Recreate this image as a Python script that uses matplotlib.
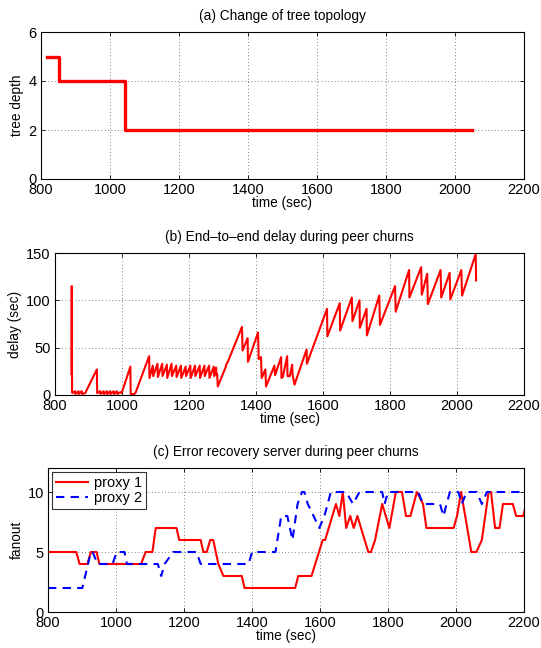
import matplotlib
matplotlib.use("Agg")
import matplotlib.pyplot as plt

plt.rcParams['font.family'] = ['Liberation Sans', 'DejaVu Sans']

# ---- data ----
# (a) tree depth (step)
depth_t = [817, 852, 852, 1044, 1044, 2048]
depth_v = [5, 5, 4, 4, 2, 2]

# (b) end-to-end delay
delay_t = [849, 850, 851, 852, 860, 861, 870, 871, 880, 881, 890, 925, 926,
           935, 936, 945, 946, 955, 956, 965, 966, 975, 976, 985, 986, 995, 999,
           1025, 1026, 1035, 1040, 1081, 1082,
           1092, 1093, 1106, 1107, 1120, 1121, 1134, 1135, 1148, 1149, 1162, 1163,
           1176, 1177, 1190, 1191, 1204, 1205, 1218, 1219, 1232, 1233, 1246, 1247,
           1260, 1261, 1274, 1275, 1281, 1282, 1284, 1286,
           1310, 1312, 1316, 1358, 1360, 1375, 1376, 1406, 1408, 1415, 1417,
           1428, 1430, 1455, 1457, 1475, 1476, 1480, 1493, 1494, 1501, 1508, 1509,
           1515, 1551, 1552, 1612, 1613, 1650, 1651, 1686, 1688, 1709, 1710,
           1730, 1731, 1768, 1770, 1815, 1817, 1857, 1858, 1893, 1895, 1911, 1913,
           1951, 1953, 1978, 1980, 2013, 2015, 2056, 2057]
delay_v = [22, 115, 3, 2, 4, 1, 4, 1, 4, 1, 2, 27, 2,
           4, 1, 4, 1, 4, 1, 4, 1, 4, 1, 4, 1, 3, 2,
           30, 1, 1, 2, 41, 18,
           31, 20, 33, 19, 33, 20, 32, 18, 33, 20, 31, 19,
           31, 18, 30, 20, 31, 18, 31, 20, 31, 18, 31, 20,
           31, 18, 30, 20, 29, 21, 22, 9,
           30, 33, 35, 72, 47, 60, 35, 66, 38, 40, 18,
           27, 9, 31, 21, 40, 18, 19, 41, 20, 20, 32, 22,
           11, 48, 33, 91, 62, 97, 68, 103, 78, 100, 71,
           91, 63, 105, 74, 115, 88, 132, 103, 135, 106, 128, 96,
           132, 103, 129, 101, 132, 105, 149, 121]

# (c) fanout
p1_t = [800, 883, 893, 916, 926, 943, 951, 1074, 1087, 1107, 1117, 1178, 1186,
        1249, 1257, 1267, 1277, 1286, 1301, 1316, 1370, 1378, 1527, 1536, 1575,
        1608, 1615, 1647, 1657, 1667, 1677, 1689, 1699, 1710, 1742, 1750, 1762,
        1783, 1804, 1823, 1841, 1853, 1866, 1885, 1903, 1913, 1993, 2003, 2015,
        2027, 2045, 2060, 2076, 2096, 2103, 2115, 2128, 2138, 2167, 2177, 2198, 2202]
p1_v = [5, 5, 4, 4, 5, 5, 4, 4, 5, 5, 7, 7, 6,
        6, 5, 5, 6, 6, 4, 3, 3, 2, 2, 3, 3,
        6, 6, 9, 8, 10, 7, 8, 7, 8, 5, 5, 6,
        9, 7, 10, 10, 8, 8, 10, 9, 7, 7, 8, 10,
        8, 5, 5, 6, 10, 10, 7, 7, 9, 9, 8, 8, 8.5]
p2_t = [800, 901, 926, 931, 946, 990, 1002, 1025, 1032, 1123, 1133, 1143, 1168,
        1237, 1249, 1390, 1400, 1469, 1486, 1504, 1519, 1534, 1547, 1554, 1564,
        1598, 1613, 1632, 1677, 1697, 1716, 1783, 1790, 1800, 1889, 1903, 1953,
        1963, 1982, 2007, 2017, 2031, 2061, 2076, 2091, 2200]
p2_v = [2, 2, 5, 5, 4, 4, 5, 5, 4, 4, 3, 4, 5,
        5, 4, 4, 5, 5, 8, 8, 6, 9, 10, 10, 9,
        7, 8, 10, 10, 9, 10, 10, 9, 10, 10, 9, 9,
        8, 10, 10, 9, 10, 10, 9, 10, 10]

xticks = [800, 1000, 1200, 1400, 1600, 1800, 2000, 2200]

W, H = 541, 648
fig = plt.figure(figsize=(W / 100, H / 100), dpi=100)


def add_ax(l, t, r, b):
    return fig.add_axes([l / W, 1 - b / H, (r - l) / W, (b - t) / H])


ax_a = add_ax(41, 32, 524, 179)
ax_b = add_ax(55, 253, 524, 395)
ax_c = add_ax(48, 468, 524, 612)

TICK_FS = 10.5
LAB_FS = 9.8


def style(ax):
    ax.set_xlim(800, 2200)
    ax.set_xticks(xticks)
    ax.tick_params(direction='in', top=True, right=True, labelsize=TICK_FS,
                   length=3, width=0.6)
    ax.tick_params(axis='x', pad=3)
    ax.tick_params(axis='y', pad=3)
    ax.grid(True, linestyle=(0, (1, 3)), color='#555555', linewidth=0.6)
    for s in ax.spines.values():
        s.set_linewidth(0.8)
    ax.set_xlabel('time (sec)', fontsize=LAB_FS, labelpad=-1)


ax_a.plot(depth_t, depth_v, color='red', lw=2.4)
style(ax_a)
ax_a.set_ylim(0, 6)
ax_a.set_yticks([0, 2, 4, 6])
ax_a.set_ylabel('tree depth', fontsize=LAB_FS, labelpad=3)
ax_a.set_title('(a) Change of tree topology', fontsize=LAB_FS, pad=8.5)

ax_b.plot(delay_t, delay_v, color='red', lw=1.5)
style(ax_b)
ax_b.set_ylim(0, 150)
ax_b.set_yticks([0, 50, 100, 150])
ax_b.set_ylabel('delay (sec)', fontsize=LAB_FS, labelpad=3)
ax_b.set_title('(b) End\u2013to\u2013end delay during peer churns', fontsize=LAB_FS, pad=8.5)

ax_c.plot(p1_t, p1_v, color='red', lw=1.5, label='proxy 1')
ax_c.plot(p2_t, p2_v, color='blue', lw=1.5, linestyle=(0, (4, 3)), label='proxy 2')
style(ax_c)
ax_c.set_ylim(0, 12)
ax_c.set_yticks([0, 5, 10])
ax_c.set_ylabel('fanout', fontsize=LAB_FS, labelpad=3)
ax_c.set_title('(c) Error recovery server during peer churns', fontsize=LAB_FS, pad=8.5)
leg = ax_c.legend(loc='upper left', fontsize=TICK_FS, frameon=True, fancybox=False,
                  borderaxespad=0.3, handlelength=2.2, handletextpad=0.4,
                  borderpad=0.25, labelspacing=0.1)
leg.get_frame().set_edgecolor('black')
leg.get_frame().set_linewidth(0.8)

fig.savefig('out.png', dpi=100)
